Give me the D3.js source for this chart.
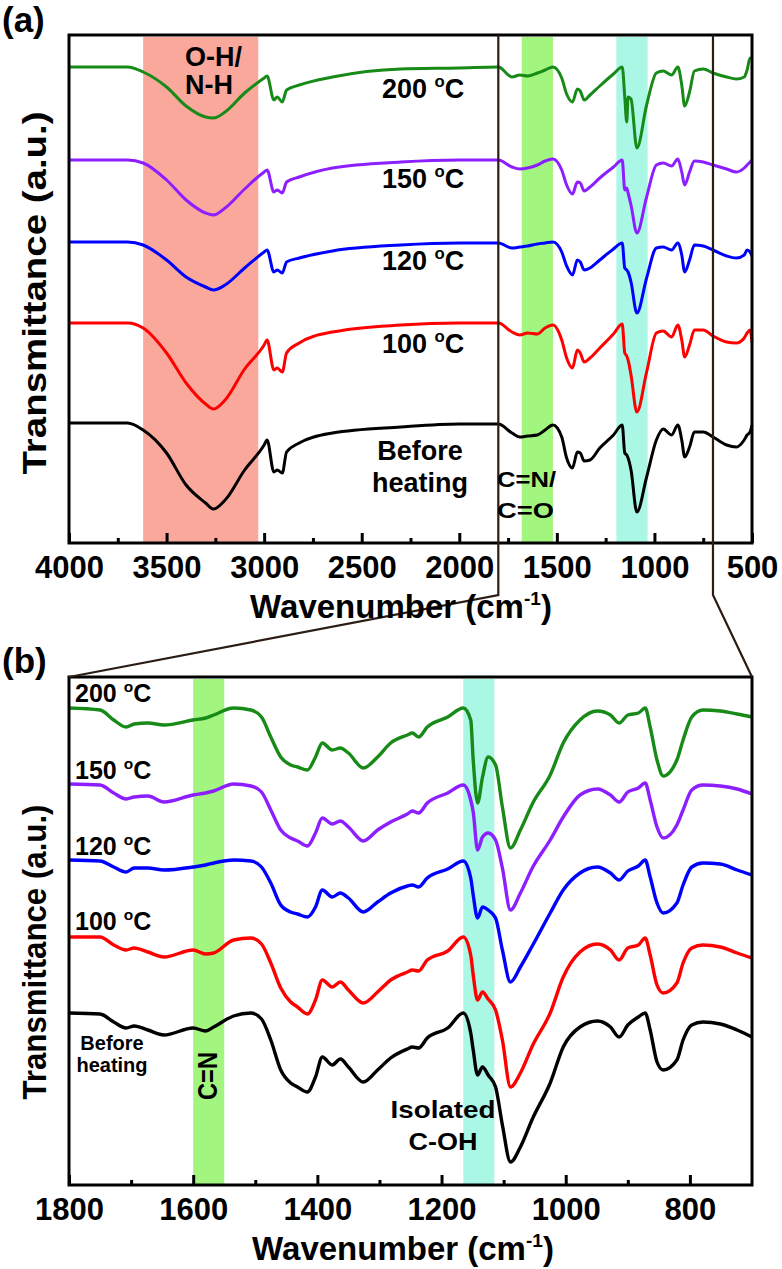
<!DOCTYPE html>
<html>
<head>
<meta charset="utf-8">
<script src="https://cdn.jsdelivr.net/npm/d3@7"></script>
<style>
  body { margin: 0; background: #fff; }
  text { font-family: "Liberation Sans", Arial, sans-serif; font-weight: bold; fill: #000; }
</style>
</head>
<body>
<div id="chart"></div>
<script>
// ---- data (transmittance in a.u., curves already offset) ----
var waveA = [4000, 3700, 3620, 3500, 3400, 3300, 3260, 3200, 3100, 3000, 2985, 2950, 2933, 2907, 2885, 2820, 2650, 2300, 2000,
             1800, 1730, 1690, 1650, 1600, 1560, 1520, 1475, 1450, 1420, 1395, 1380, 1360, 1330, 1280, 1210, 1165, 1152, 1142, 1135,
             1120, 1090, 1040, 990, 955, 912, 880, 860, 845, 820, 795, 750, 700, 630, 580, 540, 525, 510, 500];
var beforeA = [120, 120, 113, 90, 58, 40, 34, 43, 73, 98, 103, 71, 73, 70, 91, 100, 110, 116, 119,
               119, 110, 106, 107, 108, 113, 118, 106, 85, 75, 91, 90, 82, 83, 95, 108, 118, 90, 88, 85,
               73, 31, 66, 103, 114, 108, 118, 103, 86, 96, 111, 111, 106, 98, 96, 103, 108, 111, 118];
var t100A = [220, 220, 215, 190, 160, 139, 134, 143, 174, 198, 203, 173, 175, 171, 190, 200, 211, 218, 220,
             220, 211, 208, 210, 209, 215, 218, 203, 185, 175, 193, 190, 181, 185, 195, 209, 219, 190, 187, 183,
             168, 131, 171, 210, 212, 206, 218, 203, 186, 198, 213, 213, 207, 201, 200, 205, 210, 213, 201];
var t120A = [301, 301, 298, 283, 266, 256, 253, 258, 275, 291, 293, 271, 273, 270, 281, 285, 292, 298, 300,
             300, 295, 296, 297, 299, 300, 301, 291, 277, 268, 283, 281, 273, 275, 283, 294, 300, 275, 273, 271,
             261, 230, 265, 295, 296, 293, 300, 288, 271, 283, 298, 297, 293, 287, 285, 288, 293, 291, 287];
var t150A = [383, 383, 380, 363, 343, 330, 328, 335, 354, 371, 373, 351, 353, 350, 361, 366, 375, 381, 383,
             383, 376, 374, 375, 378, 382, 384, 373, 358, 349, 361, 360, 352, 356, 365, 376, 383, 353, 355, 350,
             338, 310, 346, 378, 380, 377, 384, 371, 358, 371, 382, 381, 378, 374, 371, 375, 378, 381, 383];
var t200A = [476, 476, 471, 456, 437, 426, 425, 431, 450, 465, 467, 443, 446, 441, 453, 458, 466, 474, 475,
             476, 466, 468, 467, 470, 473, 476, 465, 449, 441, 454, 452, 443, 448, 457, 469, 476, 446, 421, 446,
             444, 395, 438, 470, 472, 468, 476, 458, 437, 451, 472, 474, 470, 466, 464, 466, 473, 485, 485];

var waveB = [1800, 1750, 1728, 1708, 1695, 1673, 1647, 1600, 1580, 1567, 1535, 1507, 1490, 1475, 1459, 1443, 1432, 1416, 1403, 1392,
             1376, 1363, 1350, 1326, 1303, 1282, 1255, 1247, 1237, 1223, 1190, 1165, 1153, 1149, 1142, 1134, 1125, 1113, 1102, 1089,
             1073, 1053, 1025, 1004, 977, 949, 928, 914, 900, 883, 872, 864, 853, 843, 821, 811, 797, 779, 751, 724, 700];
var beforeB = [172, 171, 163, 157, 159, 155, 150, 157, 154, 158, 169, 172, 166, 145, 115, 102, 98, 93, 108, 128,
               120, 126, 118, 103, 115, 127, 136, 138, 137, 147, 157, 172, 152, 135, 110, 118, 110, 98, 60, 23,
               38, 67, 102, 138, 158, 164, 158, 148, 160, 168, 172, 155, 123, 115, 125, 145, 160, 163, 161, 155, 148];
var t100B = [248, 248, 240, 235, 237, 233, 228, 235, 231, 232, 245, 247, 241, 222, 197, 183, 178, 171, 185, 205,
             198, 203, 195, 182, 193, 205, 213, 215, 214, 225, 234, 248, 230, 210, 185, 193, 186, 175, 145, 98,
             112, 140, 172, 208, 233, 241, 235, 225, 237, 240, 247, 230, 200, 192, 202, 222, 237, 240, 238, 232, 227];
var t120B = [325, 324, 318, 313, 317, 317, 315, 318, 320, 322, 325, 324, 318, 302, 280, 273, 271, 268, 278, 295,
             288, 292, 287, 273, 283, 292, 299, 300, 298, 307, 316, 324, 307, 290, 267, 278, 275, 267, 235, 203,
             218, 240, 272, 295, 312, 318, 312, 305, 314, 319, 325, 308, 282, 272, 282, 300, 318, 322, 321, 315, 310];
var t150B = [401, 400, 392, 386, 388, 389, 383, 390, 392, 394, 401, 399, 393, 375, 355, 347, 344, 339, 352, 367,
             361, 364, 358, 344, 355, 363, 371, 374, 372, 382, 392, 400, 385, 373, 335, 348, 352, 345, 317, 275,
             292, 318, 345, 368, 390, 396, 390, 383, 393, 397, 402, 385, 358, 347, 360, 375, 395, 400, 399, 396, 391];
var t200B = [477, 475, 465, 458, 461, 462, 460, 465, 467, 470, 477, 475, 468, 448, 428, 420, 418, 415, 428, 442,
             435, 437, 432, 417, 428, 442, 450, 452, 448, 458, 468, 477, 465, 425, 382, 408, 428, 420, 378, 337,
             355, 382, 410, 442, 465, 474, 470, 462, 470, 472, 477, 458, 425, 409, 425, 445, 468, 475, 474, 471, 468];

var seriesA = [beforeA, t100A, t120A, t150A, t200A];
var seriesB = [beforeB, t100B, t120B, t150B, t200B];
var colors = ["#000000", "#ff0000", "#0000ff", "#8c1eff", "#178a17"];
var temps = ["100", "120", "150", "200"];

var tickA = [4000, 3500, 3000, 2500, 2000, 1500, 1000, 500];
var minorA = [3750, 3250, 2750, 2250, 1750, 1250, 750];
var tickB = [1800, 1600, 1400, 1200, 1000, 800];
var minorB = [1700, 1500, 1300, 1100, 900];

var bandsA = [[3620, 3030], [1680, 1520], [1195, 1035]];
var bandColorsA = ["#f9a89b", "#a2f57f", "#aaf7e6"];
var bandsB = [[1600, 1550], [1165, 1115]];
var bandColorsB = ["#a2f57f", "#aaf7e6"];
var zoomRange = [1800, 700];

// ---- layout ----
var w = 782, h = 1269;
var left = 69, right = 752;
var topA = 35, botA = 543, topB = 677, botB = 1185;

var svg = d3.select("#chart").append("svg")
    .attr("width", w)
    .attr("height", h);

var xA = d3.scaleLinear().domain([4000, 500]).range([left, right]);
var yA = d3.scaleLinear().domain([0, 508]).range([botA, topA]);
var xB = d3.scaleLinear().domain([1800, 700]).range([left, right]);
var yB = d3.scaleLinear().domain([0, 508]).range([botB, topB]);

function drawPanel(xs, ys, top, bot, bands, bandColors, wave, series, ticks, minor, lw) {
  var g = svg.append("g");
  // shaded bands
  bands.forEach(function(b, i) {
    g.append("rect")
      .attr("x", xs(b[0]))
      .attr("y", top + 2)
      .attr("width", xs(b[1]) - xs(b[0]))
      .attr("height", bot - top - 2)
      .attr("fill", bandColors[i]);
  });
  // spectra
  var line = d3.line()
      .x(function(d) { return xs(d[0]); })
      .y(function(d) { return ys(d[1]); })
      .curve(d3.curveMonotoneX);
  series.forEach(function(s, i) {
    g.append("path")
      .datum(d3.zip(wave, s))
      .attr("fill", "none")
      .attr("stroke", colors[i])
      .attr("stroke-width", lw)
      .attr("stroke-linejoin", "round")
      .attr("d", line);
  });
  // ticks (inward)
  var ax = g.append("g").attr("transform", "translate(0," + bot + ")")
      .call(d3.axisBottom(xs).tickValues(ticks).tickSize(-10).tickSizeOuter(0)
              .tickPadding(13).tickFormat(d3.format("d")));
  ax.select(".domain").remove();
  ax.selectAll("line").attr("stroke", "#000").attr("stroke-width", 3);
  ax.selectAll("text").attr("font-size", 31).attr("fill", "#000");
  var mx = g.append("g").attr("transform", "translate(0," + bot + ")")
      .call(d3.axisBottom(xs).tickValues(minor).tickSize(-5).tickSizeOuter(0).tickFormat(""));
  mx.select(".domain").remove();
  mx.selectAll("line").attr("stroke", "#000").attr("stroke-width", 3);
  // frame
  g.append("rect")
    .attr("x", left).attr("y", top)
    .attr("width", right - left).attr("height", bot - top)
    .attr("fill", "none").attr("stroke", "#000").attr("stroke-width", 3);
  return g;
}

drawPanel(xA, yA, topA, botA, bandsA, bandColorsA, waveA, seriesA, tickA, minorA, 3);
drawPanel(xB, yB, topB, botB, bandsB, bandColorsB, waveB, seriesB, tickB, minorB, 3.4);

// zoom connector lines
var zx0 = xA(zoomRange[0]), zx1 = xA(zoomRange[1]);
svg.append("path")
  .attr("d", "M" + zx0 + "," + topA + "V595L" + left + "," + topB +
             "M" + zx1 + "," + topA + "V595L" + right + "," + topB)
  .attr("fill", "none")
  .attr("stroke", "#2b1d14")
  .attr("stroke-width", 2.2);

// ---- text ----
function label(x, y, str, size, anchor, len) {
  var t = svg.append("text")
    .attr("x", x).attr("y", y)
    .attr("font-size", size)
    .attr("text-anchor", anchor || "start")
    .text(str);
  if (len) t.attr("textLength", len).attr("lengthAdjust", "spacingAndGlyphs");
  return t;
}
function tempLabel(x, y, t, size) {
  var tx = svg.append("text").attr("x", x).attr("y", y).attr("font-size", size);
  tx.append("tspan").text(t + " ");
  tx.append("tspan").attr("font-size", size * 0.62).attr("dy", -size * 0.42).text("o");
  tx.append("tspan").attr("dy", size * 0.42).text("C");
}
function xTitle(cx, y) {
  var tx = svg.append("text").attr("x", cx).attr("y", y).attr("font-size", 33)
    .attr("text-anchor", "middle");
  tx.append("tspan").text("Wavenumber  (cm");
  tx.append("tspan").attr("font-size", 19).attr("dy", -13).text("-1");
  tx.append("tspan").attr("dy", 13).text(")");
}
function yTitle(cx, cy, len) {
  svg.append("text")
    .attr("transform", "translate(" + cx + "," + cy + ") rotate(-90)")
    .attr("font-size", 33)
    .attr("text-anchor", "middle")
    .attr("textLength", len).attr("lengthAdjust", "spacingAndGlyphs")
    .text("Transmittance (a.u.)");
}

label(2, 32, "(a)", 35);
label(2, 673, "(b)", 35);

// panel a labels
label(185, 66, "O-H/", 27);
label(185, 94, "N-H", 27);
tempLabel(382, 98, temps[3], 27);
tempLabel(382, 188, temps[2], 27);
tempLabel(382, 270, temps[1], 27);
tempLabel(382, 353, temps[0], 27);
label(420, 460, "Before", 27, "middle");
label(420, 492, "heating", 27, "middle");
label(497, 487, "C=N/", 22, "start", 59);
label(497, 518, "C=O", 22, "start", 57);

// panel b labels
tempLabel(75, 702, temps[3], 25);
tempLabel(75, 779, temps[2], 25);
tempLabel(75, 855, temps[1], 25);
tempLabel(75, 930, temps[0], 25);
label(112, 1050, "Before", 20, "middle");
label(112, 1072, "heating", 20, "middle");
svg.append("text")
  .attr("transform", "translate(217,1076) rotate(-90)")
  .attr("font-size", 27)
  .attr("text-anchor", "middle")
  .attr("textLength", 48).attr("lengthAdjust", "spacingAndGlyphs")
  .text("C=N");
label(443, 1118, "Isolated", 24, "middle", 105);
label(443, 1150, "C-OH", 24, "middle", 69);

// axis titles
xTitle(401, 618);
xTitle(403, 1260);
yTitle(46, 293, 363);
yTitle(46, 952, 295);
</script>
</body>
</html>
